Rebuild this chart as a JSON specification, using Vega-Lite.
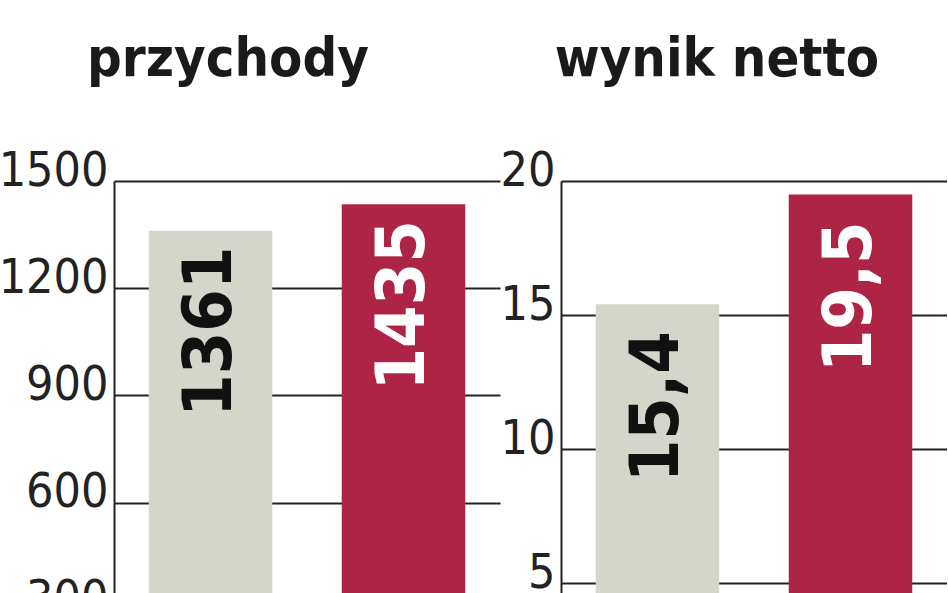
{
  "$schema": "https://vega.github.io/schema/vega-lite/v6.json",
  "padding": {"left": -2, "top": 33, "right": 0, "bottom": 0},
  "spacing": 0,
  "background": "white",
  "datasets": {
    "przychody": [
      {"okres": "2010", "wartosc": 1361, "etykieta": "1361"},
      {"okres": "2011", "wartosc": 1435, "etykieta": "1435"}
    ],
    "wynik": [
      {"okres": "2010", "wartosc": 15.4, "etykieta": "15,4"},
      {"okres": "2011", "wartosc": 19.5, "etykieta": "19,5"}
    ]
  },
  "config": {
    "view": {"stroke": null},
    "font": "DejaVu Sans Condensed, Roboto Condensed, Roboto, sans-serif",
    "title": {
      "font": "DejaVu Sans Condensed, Roboto Condensed, Roboto, sans-serif",
      "fontSize": 54,
      "fontWeight": "bold",
      "color": "#1a1a1a",
      "anchor": "middle",
      "frame": "group",
      "baseline": "alphabetic",
      "offset": 60
    },
    "axisY": {
      "domainColor": "#222222",
      "domainWidth": 2,
      "gridColor": "#222222",
      "gridWidth": 2,
      "gridOpacity": 1,
      "ticks": false,
      "labelFont": "DejaVu Sans Condensed, Roboto Condensed, Roboto, sans-serif",
      "labelFontSize": 48,
      "labelFontWeight": 300,
      "labelColor": "#222222",
      "labelPadding": 6,
      "labelBaseline": "alphabetic",
      "labelOffset": 4,
      "format": "d",
      "title": null
    }
  },
  "hconcat": [
    {
      "data": {"name": "przychody"},
      "width": 386,
      "height": 536,
      "title": {"text": "przychody", "dx": -79},
      "encoding": {
        "x": {
          "field": "okres",
          "type": "nominal",
          "axis": null,
          "scale": {"paddingInner": 0.36, "paddingOuter": 0.18}
        },
        "y": {
          "field": "wartosc",
          "type": "quantitative",
          "scale": {"domain": [0, 1500]},
          "axis": {"values": [0, 300, 600, 900, 1200, 1500]}
        }
      },
      "layer": [
        {
          "mark": {"type": "bar"},
          "encoding": {
            "color": {
              "field": "okres",
              "type": "nominal",
              "scale": {"range": ["#d5d6cb", "#ae2444"]},
              "legend": null
            }
          }
        },
        {
          "mark": {
            "type": "text",
            "angle": 270,
            "align": "right",
            "baseline": "middle",
            "dx": -16,
            "fontSize": 68,
            "fontWeight": "bold"
          },
          "encoding": {
            "text": {"field": "etykieta"},
            "color": {"condition": {"test": "datum.okres === '2011'", "value": "#ffffff"}, "value": "#111111"}
          }
        }
      ]
    },
    {
      "data": {"name": "wynik"},
      "width": 386,
      "height": 536,
      "title": {"text": "wynik netto", "dx": -37},
      "encoding": {
        "x": {
          "field": "okres",
          "type": "nominal",
          "axis": null,
          "scale": {"paddingInner": 0.36, "paddingOuter": 0.18}
        },
        "y": {
          "field": "wartosc",
          "type": "quantitative",
          "scale": {"domain": [0, 20]},
          "axis": {"values": [0, 5, 10, 15, 20]}
        }
      },
      "layer": [
        {
          "mark": {"type": "bar"},
          "encoding": {
            "color": {
              "field": "okres",
              "type": "nominal",
              "scale": {"range": ["#d5d6cb", "#ae2444"]},
              "legend": null
            }
          }
        },
        {
          "mark": {
            "type": "text",
            "angle": 270,
            "align": "right",
            "baseline": "middle",
            "dx": -27,
            "fontSize": 68,
            "fontWeight": "bold"
          },
          "encoding": {
            "text": {"field": "etykieta"},
            "color": {"condition": {"test": "datum.okres === '2011'", "value": "#ffffff"}, "value": "#111111"}
          }
        }
      ]
    }
  ]
}
